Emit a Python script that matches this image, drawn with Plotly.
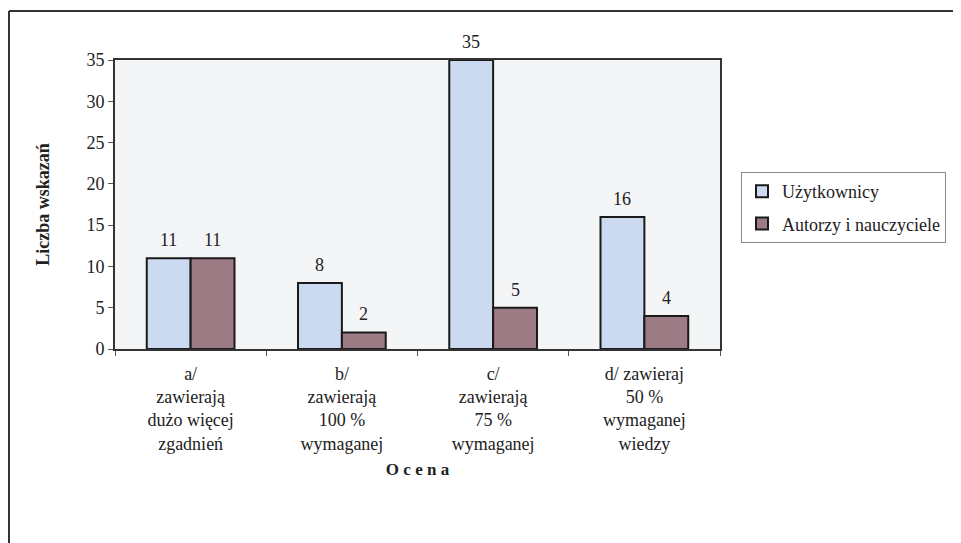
import plotly.graph_objects as go

categories = [
    "a/<br>zawierają<br>dużo więcej<br>zgadnień",
    "b/<br>zawierają<br>100 %<br>wymaganej",
    "c/<br>zawierają<br>75 %<br>wymaganej",
    "d/ zawieraj<br>50 %<br>wymaganej<br>wiedzy",
]
uzytkownicy = [11, 8, 35, 16]
autorzy = [11, 2, 5, 4]
series_names = ["Użytkownicy", "Autorzy i nauczyciele"]
y_ticks = [0, 5, 10, 15, 20, 25, 30, 35]

FONT = "Liberation Serif"
OFF = 8  # default body margin of the page
W, H = 961 - OFF, 543 - OFF
L, T = 115 - OFF, 60 - OFF
R = W - (720 - OFF)
B = H - (349 - OFF)
pw, ph = W - L - R, H - T - B


def px(x):
    return (x - OFF - L) / pw


def py(y):
    return (H - B - (y - OFF)) / ph


fig = go.Figure()
fig.add_trace(go.Bar(
    x=categories, y=uzytkownicy, name=series_names[0], legendgroup="u",
    marker=dict(color="#cbdaf1", line=dict(color="#1a1a1a", width=2)),
))
fig.add_trace(go.Bar(
    x=categories, y=autorzy, name=series_names[1], legendgroup="a",
    marker=dict(color="#9c7b84", line=dict(color="#1a1a1a", width=2)),
))

annotations = []
for vals, shift in ((uzytkownicy, -22), (autorzy, 22)):
    for c, v in zip(categories, vals):
        annotations.append(dict(
            x=c, y=v, xref="x", yref="y", text=str(v), showarrow=False,
            xshift=shift, yshift=18, yanchor="middle",
            font=dict(family=FONT, size=18, color="#222"),
        ))

fig.update_layout(
    width=W, height=H,
    margin=dict(l=L, r=R, t=T, b=B),
    paper_bgcolor="white",
    plot_bgcolor="#f4f5f7",
    barmode="group",
    bargap=0.42,
    bargroupgap=0,
    font=dict(family=FONT, size=18, color="#222"),
    showlegend=True,
    legend=dict(
        x=px(741), y=py(172), xanchor="left", yanchor="top",
        bgcolor="white", bordercolor="#888", borderwidth=1,
        font=dict(family=FONT, size=18, color="#222"),
        tracegroupgap=6, itemwidth=30,
    ),
    xaxis=dict(
        type="category",
        tickson="boundaries",
        ticks="outside", ticklen=5, tickcolor="#555",
        ticklabelstandoff=7,
        showline=True, linecolor="#333", linewidth=2, mirror=True,
        tickfont=dict(family=FONT, size=18, color="#222"),
        title=dict(text="<b>O c e n a</b>", font=dict(family=FONT, size=17, color="#222"), standoff=10),
        showgrid=False,
    ),
    yaxis=dict(
        range=[0, 35], tickvals=y_ticks,
        ticks="outside", ticklen=5, tickcolor="#555",
        showline=True, linecolor="#333", linewidth=2, mirror=True,
        showgrid=False, zeroline=False,
        tickfont=dict(family=FONT, size=18, color="#222"),
        title=dict(text="<b>Liczba wskazań</b>", font=dict(family=FONT, size=18, color="#222"), standoff=32),
    ),
    annotations=annotations,
    shapes=[
        dict(type="line", xref="paper", yref="paper",
             x0=px(9), x1=px(961), y0=py(11), y1=py(11),
             line=dict(color="#333", width=2)),
        dict(type="line", xref="paper", yref="paper",
             x0=px(9), x1=px(9), y0=py(11), y1=py(545),
             line=dict(color="#333", width=2)),
    ],
)

fig.write_html("out.html")
